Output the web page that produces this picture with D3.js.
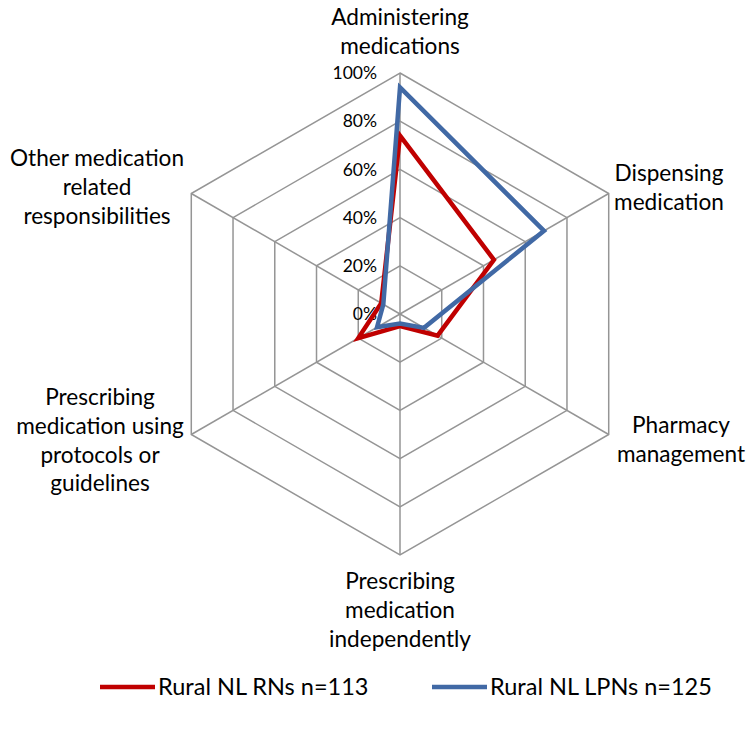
<!DOCTYPE html>
<html><head><meta charset="utf-8">
<script src="https://cdn.jsdelivr.net/npm/d3@7"></script>
<style>body{margin:0;background:#fff}svg{display:block}</style>
</head><body>
<svg id="c" width="749" height="730"></svg>
<script>
const categories = [
  ["Administering","medications"],
  ["Dispensing","medication"],
  ["Pharmacy","management"],
  ["Prescribing","medication","independently"],
  ["Prescribing","medication using","protocols or","guidelines"],
  ["Other medication","related","responsibilities"]
];
const seriesNames = ["Rural NL RNs n=113","Rural NL LPNs n=125"];
const rnValues  = [0.74, 0.45, 0.18, 0.05, 0.20, 0.09];
const lpnValues = [0.94, 0.69, 0.115, 0.04, 0.11, 0.08];
const tickValues = [0, 0.2, 0.4, 0.6, 0.8, 1.0];
const colors = ["#C00000","#4169A5"];

const svg = d3.select("#c");
const cx = 400, cy = 314, R = 241;
const font = "Lato, 'Open Sans', sans-serif";
const r = d3.scaleLinear().domain([0,1]).range([0,R]);
const n = categories.length;
const ang = i => i * 2*Math.PI/n;
const pt = (i,v) => [cx + r(v)*Math.sin(ang(i)), cy - r(v)*Math.cos(ang(i))];

const g = svg.append("g");
// grid hexagons
tickValues.filter(t=>t>0).forEach(t=>{
  g.append("path")
    .attr("d", d3.line()(d3.range(n).map(i=>pt(i,t))) + "Z")
    .attr("fill","none").attr("stroke","#959595").attr("stroke-width",1.5);
});
// spokes
d3.range(n).forEach(i=>{
  const p = pt(i,1);
  g.append("line").attr("x1",cx).attr("y1",cy).attr("x2",p[0]).attr("y2",p[1])
    .attr("stroke","#959595").attr("stroke-width",1.5);
});
// tick labels
const fmt = d3.format(".0%");
tickValues.forEach(t=>{
  g.append("text").attr("x", cx-23).attr("y", cy - r(t)).attr("dy","0.35em")
    .attr("text-anchor","end").attr("font-family",font).attr("font-size","17.5px")
    .attr("fill","#000").text(fmt(t));
});
// series
[rnValues, lpnValues].forEach((vals,k)=>{
  g.append("path")
    .attr("d", d3.line()(vals.map((v,i)=>pt(i,v))) + "Z")
    .attr("fill","none").attr("stroke",colors[k]).attr("stroke-width",4.5)
    .attr("stroke-linejoin","miter");
});
// category labels
const labelPos = [[400,17],[669,173],[681,425],[400,581],[100,397],[97,158]];
categories.forEach((lines,i)=>{
  const t = g.append("text").attr("text-anchor","middle")
    .attr("font-family",font).attr("font-size","22.6px").attr("fill","#000");
  lines.forEach((s,j)=>{
    t.append("tspan").attr("x",labelPos[i][0]).attr("y",labelPos[i][1]+j*28.8)
      .attr("dy","0.35em").text(s);
  });
});
// legend
const leg = svg.append("g");
const legX = [100, 432], legY = 687;
seriesNames.forEach((s,k)=>{
  leg.append("line").attr("x1",legX[k]).attr("x2",legX[k]+55).attr("y1",legY).attr("y2",legY)
    .attr("stroke",colors[k]).attr("stroke-width",4.5);
  leg.append("text").attr("x",legX[k]+58).attr("y",legY).attr("dy","0.35em")
    .attr("font-family",font).attr("font-size","23.5px").attr("fill","#000").text(s);
});
</script>
</body></html>
